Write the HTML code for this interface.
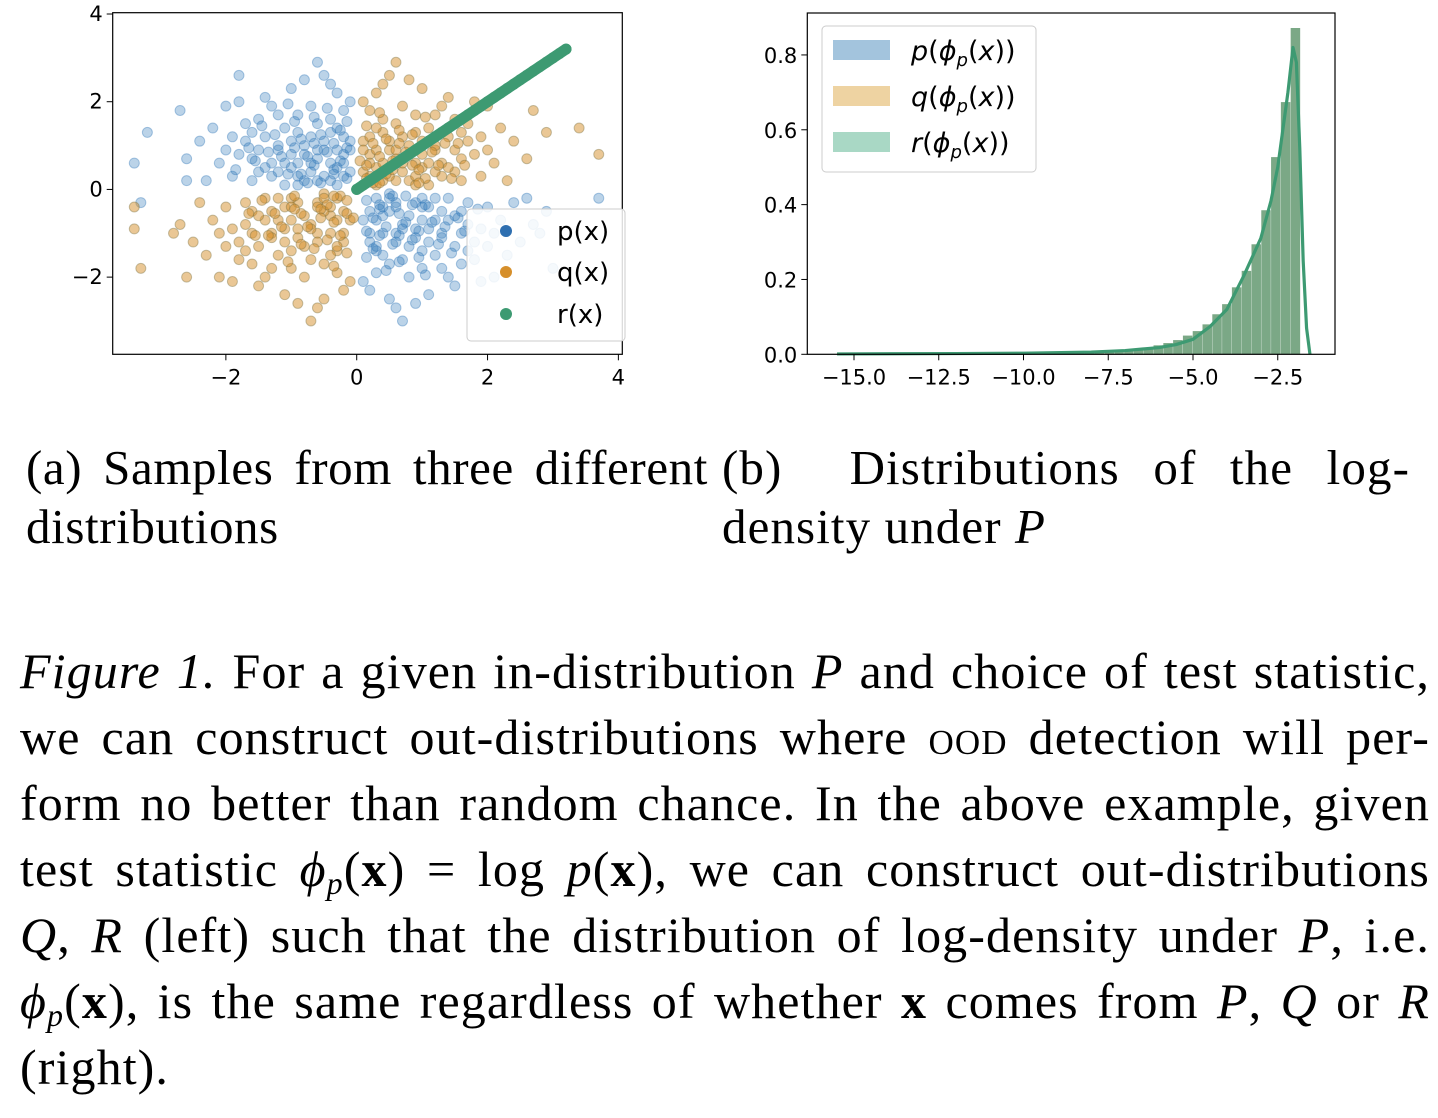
<!DOCTYPE html>
<html><head><meta charset="utf-8"><style>
body{margin:0;background:#fff;width:1438px;height:1118px;overflow:hidden;position:relative;font-family:"Liberation Serif",serif}
svg{position:absolute;left:0;top:0}
.ln{position:absolute;color:#000;font-family:"Liberation Serif",serif;white-space:nowrap;text-align:justify;text-align-last:justify;height:60px;line-height:60px;letter-spacing:1.1px}
.l{text-align:left;text-align-last:left}
sub{font-size:32px;line-height:0;vertical-align:-8px}
</style></head><body>
<svg id="fig" width="1438" height="400"></svg>
<div>
<div class="ln" style="left:26px;top:438px;width:682px;font-size:49px;letter-spacing:0.6px">(a) Samples from three different</div>
<div class="ln l" style="left:26px;top:497px;width:682px;font-size:49px;letter-spacing:0.6px">distributions</div>
</div>
<div>
<div class="ln" style="left:722px;top:438px;width:688px;font-size:49px">(b)&nbsp; Distributions of the log-</div>
<div class="ln l" style="left:722px;top:497px;width:688px;font-size:49px">density under <i>P</i></div>
</div>
<div style="font-size:50px">
<div class="ln" style="left:20px;top:641px;width:1410px"><i>Figure 1.</i> For a given in-distribution <i>P</i> and choice of test statistic,</div>
<div class="ln" style="left:20px;top:707px;width:1410px">we can construct out-distributions where <span style="font-variant:small-caps">ood</span> detection will per-</div>
<div class="ln" style="left:20px;top:773px;width:1410px">form no better than random chance. In the above example, given</div>
<div class="ln" style="left:20px;top:839px;width:1410px">test statistic <i>ϕ<sub>p</sub></i>(<b>x</b>) = log <i>p</i>(<b>x</b>), we can construct out-distributions</div>
<div class="ln" style="left:20px;top:905px;width:1410px"><i>Q</i>, <i>R</i> (left) such that the distribution of log-density under <i>P</i>, i.e.</div>
<div class="ln" style="left:20px;top:971px;width:1410px"><i>ϕ<sub>p</sub></i>(<b>x</b>), is the same regardless of whether <b>x</b> comes from <i>P</i>, <i>Q</i> or <i>R</i></div>
<div class="ln l" style="left:20px;top:1037px;width:1410px">(right).</div>
</div>
<script>
// ---- scatter data ----
const pPoints = "-0.3,0.5 -0.8,0.2 -1.2,0.9 -0.1,1.1 -0.6,0.7 -1.5,0.4 -0.4,1.6 -0.9,1.3 -1.8,0.8 -0.2,0.3 -1.1,0.1 -0.7,1.9 -1.4,1.2 -0.5,0.9 -2.1,0.6 -0.3,2.2 -1.0,0.5 -0.6,0.2 -1.7,1.5 -0.2,0.8 -1.3,0.3 -0.8,1.0 -2.4,1.1 -0.1,0.4 -0.9,0.6 -1.6,0.2 -0.4,1.3 -1.2,1.7 -0.7,0.4 -2.0,1.9 -0.3,0.1 -1.5,0.9 -0.5,2.6 -1.1,1.4 -0.2,1.8 -1.9,0.3 -0.8,0.8 -0.6,1.5 -1.3,0.6 -2.6,0.7 -0.4,0.6 -1.0,2.3 -0.9,0.1 -1.7,1.1 -0.1,0.9 -1.4,0.5 -0.7,1.2 -2.2,1.4 -0.5,0.3 -1.2,1.0 -0.3,1.4 -1.8,2.0 -0.9,1.7 -1.6,0.7 -0.2,0.6 -1.0,0.8 -3.2,1.3 -0.6,2.9 -1.3,1.9 -0.4,0.2 -1.1,0.6 -0.8,2.5 -2.3,0.2 -1.5,1.6 -0.3,0.9 -0.7,0.6 -1.9,1.2 -0.1,2.0 -1.2,0.4 -2.7,1.8 -0.5,1.1 -1.4,2.1 -0.9,0.3 -0.2,1.2 -1.6,1.3 -3.4,0.6 -0.6,0.9 -1.0,1.1 -2.0,0.9 -0.4,2.4 -2.6,0.2 -3.3,-0.3 -1.8,2.6 " +
 "-0.15,0.25 -0.35,0.45 -0.55,0.15 -0.25,0.65 -0.45,0.85 -0.65,0.55 -0.85,0.35 -0.15,0.95 -0.35,1.05 -0.75,0.75 -0.95,0.95 -1.05,0.35 -0.55,1.25 -0.25,1.35 -0.85,1.15 -1.15,0.75 -1.25,1.25 -0.65,1.65 -0.45,1.85 -1.35,0.85 -0.95,1.55 -1.55,0.65 -1.45,1.45 -0.15,1.55 -0.75,0.15 -1.65,0.95 -1.85,0.45 -1.05,1.95 -0.35,0.35 -0.65,1.05 " +
 "0.4,-0.6 0.9,-0.3 1.3,-1.0 0.2,-1.2 0.7,-0.8 1.6,-0.5 0.5,-1.7 1.0,-1.4 1.9,-0.9 0.3,-0.2 1.2,-0.2 0.8,-2.0 1.5,-1.3 0.6,-1.0 2.2,-0.7 0.2,-2.3 1.1,-0.4 0.5,-0.1 1.8,-1.6 0.1,-0.7 1.4,-0.2 0.9,-1.1 2.5,-1.2 0.2,-0.5 1.0,-0.7 1.7,-0.3 0.3,-1.4 1.3,-1.8 0.6,-0.3 2.1,-2.0 0.4,-0.4 1.6,-1.0 0.6,-2.7 1.2,-1.5 0.3,-1.9 2.0,-0.4 0.9,-0.9 0.7,-1.6 1.4,-0.7 2.7,-0.8 0.5,-0.5 1.1,-2.4 1.0,-0.2 1.8,-1.2 0.2,-1.0 1.5,-0.6 0.8,-1.3 2.3,-1.5 0.6,-0.4 1.3,-1.1 0.4,-1.5 1.9,-2.1 1.0,-1.8 1.7,-0.8 0.3,-0.7 1.1,-0.9 3.0,-1.8 0.7,-3.0 1.4,-2.0 0.5,-0.2 1.2,-0.7 0.9,-2.6 2.4,-0.3 1.6,-1.7 0.4,-1.0 0.8,-0.6 2.0,-1.3 0.1,-2.1 1.3,-0.5 2.8,-1.0 0.6,-1.2 1.5,-2.2 1.0,-0.4 0.3,-1.3 1.7,-1.4 2.6,-0.2 0.7,-0.9 1.1,-1.2 2.1,-1.0 0.5,-2.5 3.7,-0.2 2.9,-0.5 " +
 "0.15,-0.25 0.35,-0.45 0.55,-0.15 0.25,-0.65 0.45,-0.85 0.65,-0.55 0.85,-0.35 0.15,-0.95 0.35,-1.05 0.75,-0.75 0.95,-0.95 1.05,-0.35 0.55,-1.25 0.25,-1.35 0.85,-1.15 1.15,-0.75 1.25,-1.25 0.65,-1.65 0.45,-1.85 1.35,-0.85 0.95,-1.55 1.55,-0.65 1.45,-1.45 0.15,-1.55 0.75,-0.15 1.65,-0.95 1.85,-0.45 1.05,-1.95 0.35,-0.35 0.65,-1.05";
const qPoints = "0.3,0.5 0.8,0.2 1.2,0.9 0.1,1.1 0.6,0.7 1.5,0.4 0.4,1.6 0.9,1.3 1.8,0.8 0.2,0.3 1.1,0.1 0.7,1.9 1.4,1.2 0.5,0.9 2.1,0.6 0.3,2.2 1.0,0.5 0.6,0.2 1.7,1.5 0.2,0.8 1.3,0.3 0.8,1.0 2.4,1.1 0.1,0.4 0.9,0.6 1.6,0.2 0.4,1.3 1.2,1.7 0.7,0.4 2.0,1.9 0.3,0.1 1.5,0.9 0.5,2.6 1.1,1.4 0.2,1.8 1.9,0.3 0.8,0.8 0.6,1.5 1.3,0.6 2.6,0.7 0.4,0.6 1.0,2.3 0.9,0.1 1.7,1.1 0.1,0.9 1.4,0.5 0.7,1.2 2.2,1.4 0.5,0.3 1.2,1.0 0.3,1.4 1.8,2.0 0.9,1.7 1.6,0.7 0.2,0.6 1.0,0.8 2.9,1.3 0.6,2.9 1.3,1.9 0.4,0.2 1.1,0.6 0.8,2.5 2.3,0.2 1.5,1.6 0.3,0.9 0.7,0.6 1.9,1.2 0.1,2.0 1.2,0.4 2.7,1.8 0.5,1.1 1.4,2.1 0.9,0.3 0.2,1.2 1.6,1.3 3.4,1.4 0.6,0.9 1.0,1.1 2.0,0.9 0.4,2.4 0.25,0.15 0.45,0.35 0.15,0.55 0.35,0.75 0.55,0.45 0.85,0.55 0.65,1.05 1.05,0.25 " +
 "0.15,0.25 0.35,0.15 0.55,0.65 0.25,1.05 0.75,0.85 0.95,0.45 1.15,0.85 0.45,1.15 0.15,1.45 0.85,1.25 1.25,0.55 1.35,1.05 0.65,1.35 1.05,1.65 1.45,0.25 0.35,1.75 1.65,0.55 1.55,1.05 0.95,0.15 0.05,0.65 " +
 "-0.4,-0.6 -0.9,-0.3 -1.3,-1.0 -0.2,-1.2 -0.7,-0.8 -1.6,-0.5 -0.5,-1.7 -1.0,-1.4 -1.9,-0.9 -0.3,-0.2 -1.2,-0.2 -0.8,-2.0 -1.5,-1.3 -0.6,-1.0 -2.2,-0.7 -0.2,-2.3 -1.1,-0.4 -0.5,-0.1 -1.8,-1.6 -0.1,-0.7 -1.4,-0.2 -0.9,-1.1 -2.5,-1.2 -0.2,-0.5 -1.0,-0.7 -1.7,-0.3 -0.3,-1.4 -1.3,-1.8 -0.6,-0.3 -2.1,-2.0 -0.4,-0.4 -1.6,-1.0 -0.6,-2.7 -1.2,-1.5 -0.3,-1.9 -2.0,-0.4 -0.9,-0.9 -0.7,-1.6 -1.4,-0.7 -2.7,-0.8 -0.5,-0.5 -1.1,-2.4 -1.0,-0.2 -1.8,-1.2 -0.2,-1.0 -1.5,-0.6 -0.8,-1.3 -2.3,-1.5 -0.6,-0.4 -1.3,-1.1 -0.4,-1.5 -1.9,-2.1 -1.0,-1.8 -1.7,-0.8 -0.3,-0.7 -1.1,-0.9 -3.3,-1.8 -0.7,-3.0 -1.4,-2.0 -0.5,-0.2 -1.2,-0.7 -0.9,-2.6 -2.4,-0.3 -1.6,-1.7 -0.4,-1.0 -0.8,-0.6 -2.0,-1.3 -0.1,-2.1 -1.3,-0.5 -2.8,-1.0 -0.6,-1.2 -1.5,-2.2 -1.0,-0.4 -0.3,-1.3 -1.7,-1.4 -2.6,-2.0 -0.7,-0.9 -1.1,-1.2 -2.1,-1.0 -0.5,-2.5 -0.25,-0.15 -0.45,-0.35 -0.15,-0.55 -0.35,-0.75 -0.55,-0.45 -0.85,-0.55 -3.4,-0.4 -3.4,-0.9 3.7,0.8 " +
 "-0.15,-0.25 -0.35,-0.15 -0.55,-0.65 -0.25,-1.05 -0.75,-0.85 -0.95,-0.45 -1.15,-0.85 -0.45,-1.15 -0.15,-1.45 -0.85,-1.25 -1.25,-0.55 -1.35,-1.05 -0.65,-1.35 -1.05,-1.65 -1.45,-0.25 -0.35,-1.75 -1.65,-0.55 -1.55,-1.05 -0.95,-0.15 -0.05,-0.65";
const rT = [0,0.1,0.2,0.3,0.4,0.5,0.6,0.7,0.8,0.9,1.0,1.1,1.2,1.3,1.4,1.5,1.6,1.7,1.8,1.9,2.0,2.1,2.2,2.3,2.4,2.5,2.6,2.7,2.8,2.9,3.0,3.1,3.2];
const scatXTicks = [-2,0,2,4];
const scatYTicks = [4,2,0,-2];
// ---- histogram data ----
const histStart = -15.7, histEnd = -1.83;
const histHeights = [0.001,0.001,0,0.001,0.001,0.001,0.001,0.001,0.001,0.001,0.001,0.001,0.001,0.001,0.001,0.001,0.001,0.002,0.002,0.002,0.002,0.002,0.003,0.003,0.004,0.004,0.005,0.006,0.007,0.009,0.011,0.014,0.018,0.024,0.030,0.038,0.050,0.062,0.080,0.107,0.134,0.179,0.223,0.294,0.385,0.527,0.674,0.872];
const kdeX = [-15.5,-12,-10,-8,-7,-6,-5.5,-5,-4.5,-4,-3.5,-3,-2.7,-2.5,-2.2,-2.05,-1.95,-1.85,-1.75,-1.65,-1.55];
const kdeP = [0.001,0.002,0.003,0.006,0.010,0.018,0.026,0.040,0.074,0.12,0.21,0.31,0.41,0.50,0.70,0.82,0.78,0.55,0.25,0.07,0.0];
const kdeQ = [0.001,0.002,0.003,0.006,0.010,0.018,0.026,0.040,0.074,0.12,0.21,0.31,0.41,0.50,0.70,0.82,0.78,0.55,0.25,0.07,0.0];
const kdeR = [0.001,0.002,0.003,0.006,0.010,0.018,0.026,0.040,0.074,0.12,0.21,0.31,0.41,0.50,0.70,0.82,0.78,0.55,0.25,0.07,0.0];
const histXTicks = [-15,-12.5,-10,-7.5,-5,-2.5];
const histYTicks = [0,0.2,0.4,0.6,0.8];

const NS="http://www.w3.org/2000/svg", svg=document.getElementById('fig');
function mk(t,a,p){const e=document.createElementNS(NS,t);for(const k in a)e.setAttribute(k,a[k]);(p||svg).appendChild(e);return e;}
const SANS='"DejaVu Sans","Liberation Sans",sans-serif';
function parse(s){return s.trim().split(/\s+/).map(t=>t.split(',').map(Number));}
function fmtNum(v,d){return (v<0?'\u2212':'')+Math.abs(v).toFixed(d);}

// ---- left scatter ----
const L={x0:112.7,x1:622.3,y0:12.7,y1:354.3,xmin:-3.73,xmax:4.06,ymin:-3.76,ymax:4.03};
const sx=v=>L.x0+(v-L.xmin)/(L.xmax-L.xmin)*(L.x1-L.x0);
const sy=v=>L.y1-(v-L.ymin)/(L.ymax-L.ymin)*(L.y1-L.y0);
const gS=mk('g',{});


const clip=mk('clipPath',{id:'cl'});mk('rect',{x:L.x0,y:L.y0,width:L.x1-L.x0,height:L.y1-L.y0},clip);
const gPts=mk('g',{'clip-path':'url(#cl)'},gS);
parse(pPoints).forEach(([x,y])=>{const c=mk('circle',{cx:sx(x),cy:sy(y),r:5,fill:'rgba(50,120,185,0.33)',stroke:'rgba(50,120,185,0.4)'},gPts);

});
parse(qPoints).forEach(([x,y])=>{const c=mk('circle',{cx:sx(x),cy:sy(y),r:5,fill:'rgba(214,143,43,0.5)',stroke:'rgba(120,110,60,0.4)'},gPts);

});
rT.forEach(t=>{const c=mk('circle',{cx:sx(t),cy:sy(t),r:5.5,fill:'#3d9a72'},gPts);

});
mk('line',{x1:sx(0),y1:sy(0),x2:sx(rT[rT.length-1]),y2:sy(rT[rT.length-1]),stroke:'#3d9a72','stroke-width':11,'stroke-linecap':'round'},gPts);
mk('rect',{x:L.x0,y:L.y0,width:L.x1-L.x0,height:L.y1-L.y0,fill:'none',stroke:'#000','stroke-width':1.2},gS);
scatXTicks.forEach(v=>{const x=sx(v);mk('line',{x1:x,x2:x,y1:L.y1,y2:L.y1+6,stroke:'#000'},gS);
const t=mk('text',{x:x,y:L.y1+30,'text-anchor':'middle','font-size':21,'font-family':SANS},gS);t.textContent=fmtNum(v,0);

});
scatYTicks.forEach(v=>{const y=sy(v);mk('line',{x1:L.x0-6,x2:L.x0,y1:y,y2:y,stroke:'#000'},gS);
const t=mk('text',{x:L.x0-10,y:y+7,'text-anchor':'end','font-size':21,'font-family':SANS},gS);t.textContent=fmtNum(v,0);

});
const lg=mk('g',{},gS);


mk('rect',{x:467,y:209,width:158,height:132,rx:4,fill:'rgba(255,255,255,0.85)',stroke:'#ccc'},lg);
[['p(x)','#2e6fb0',231],['q(x)','#d68f2b',272],['r(x)','#3d9a72',314]].forEach(([n,c,y])=>{
mk('circle',{cx:506,cy:y,r:6,fill:c},lg);const t=mk('text',{x:557,y:y+9,'font-size':26,'font-family':SANS},lg);t.textContent=n;

});

// ---- right histogram ----
const R={x0:807.3,x1:1335,y0:13,y1:354.3};
const hx=v=>854+(v+15)*33.9;
const hy=v=>354.3-v*374.2;
const gH=mk('g',{});


const bw=(histEnd-histStart)/histHeights.length;
histHeights.forEach((h,i)=>{const xa=hx(histStart+i*bw),xb=hx(histStart+(i+1)*bw);
const b=mk('rect',{x:xa,y:hy(h),width:xb-xa-0.3,height:hy(0)-hy(h),fill:'#7ba886'},gH);

});
[[kdeP,'#3b7dba'],[kdeQ,'#d68f2b'],[kdeR,'#3d9a72']].forEach(([ys,c],k)=>{
const l=mk('polyline',{points:kdeX.map((x,i)=>hx(x)+','+hy(ys[i])).join(' '),fill:'none',stroke:c,'stroke-width':k==2?3.2:2,'stroke-linejoin':'round'},gH);

});
mk('rect',{x:R.x0,y:R.y0,width:R.x1-R.x0,height:R.y1-R.y0,fill:'none',stroke:'#000','stroke-width':1.2},gH);
histXTicks.forEach(v=>{const x=hx(v);mk('line',{x1:x,x2:x,y1:R.y1,y2:R.y1+6,stroke:'#000'},gH);
const t=mk('text',{x:x,y:R.y1+30,'text-anchor':'middle','font-size':21,'font-family':SANS},gH);t.textContent=fmtNum(v,1);

});
histYTicks.forEach(v=>{const y=hy(v);mk('line',{x1:R.x0-6,x2:R.x0,y1:y,y2:y,stroke:'#000'},gH);
const t=mk('text',{x:R.x0-10,y:y+8,'text-anchor':'end','font-size':21,'font-family':SANS},gH);t.textContent=v.toFixed(1);

});
const lg2=mk('g',{},gH);


mk('rect',{x:822,y:26,width:214,height:146,rx:4,fill:'rgba(255,255,255,0.9)',stroke:'#ccc'},lg2);
[['p','#a3c4dd',50],['q','#eed3a2',96],['r','#a9d8c5',142]].forEach(([n,c,y])=>{
mk('rect',{x:833,y:y-10,width:57,height:20,fill:c},lg2);
const t=mk('text',{x:911,y:y+10,'font-size':27,'font-family':SANS},lg2);


t.innerHTML='<tspan font-style="italic">'+n+'</tspan>(<tspan font-style="italic">ϕ</tspan><tspan font-style="italic" font-size="18" dy="6">p</tspan><tspan dy="-6">(</tspan><tspan font-style="italic">x</tspan>))';});
</script>
</body></html>
